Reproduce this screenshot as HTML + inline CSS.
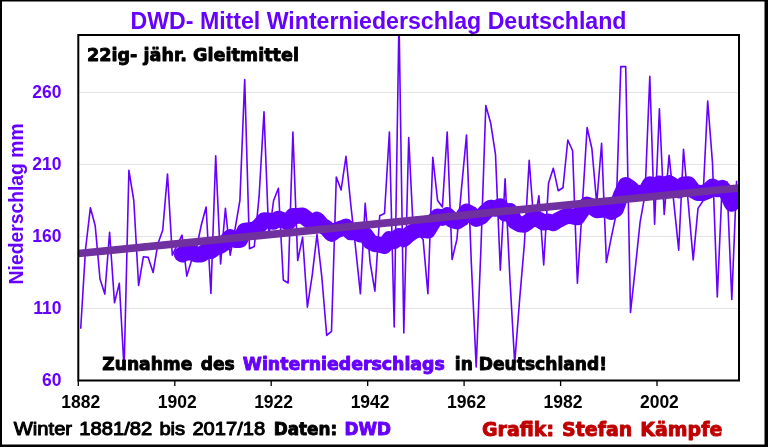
<!DOCTYPE html>
<html lang="de"><head><meta charset="utf-8"><title>DWD- Mittel Winterniederschlag Deutschland</title>
<style>
html,body{margin:0;padding:0;background:#fff;}
body{width:768px;height:447px;overflow:hidden;position:relative;font-family:"Liberation Sans",sans-serif;}
svg{position:absolute;left:0;top:0;display:block;}
.ax{font:bold 17.5px "Liberation Sans",sans-serif;}
.title{font:bold 23.1px "Liberation Sans",sans-serif;}
.blk{font:bold 16px "DejaVu Sans","Liberation Sans",sans-serif;stroke-width:0.9px;stroke-linejoin:round;}
.reg{font:18.9px "Liberation Sans",sans-serif;}
</style></head><body>
<svg width="768" height="447" viewBox="0 0 768 447">
<rect x="0" y="0" width="768" height="447" fill="#fff"/>
<defs><clipPath id="cp"><rect x="78.3" y="35.0" width="660.7" height="345.5"/></clipPath></defs>
<line x1="78.3" x2="739.0" y1="308.5" y2="308.5" stroke="#e2e2e2" stroke-width="1"/><line x1="78.3" x2="739.0" y1="236.5" y2="236.5" stroke="#e2e2e2" stroke-width="1"/><line x1="78.3" x2="739.0" y1="164.5" y2="164.5" stroke="#e2e2e2" stroke-width="1"/><line x1="78.3" x2="739.0" y1="92.5" y2="92.5" stroke="#e2e2e2" stroke-width="1"/>
<g clip-path="url(#cp)">
<polyline points="80.7,328.7 85.5,249.5 90.4,207.7 95.2,225.7 100.0,279.0 104.8,294.1 109.6,232.2 114.5,302.7 119.3,283.4 124.1,369.0 128.9,170.3 133.8,200.5 138.6,285.5 143.4,256.7 148.2,257.4 153.1,272.5 157.9,243.7 162.7,230.3 167.5,174.0 172.3,255.2 177.2,245.1 182.0,235.1 186.8,276.1 191.6,260.3 196.5,248.0 201.3,225.0 206.1,207.0 210.9,293.5 215.7,155.9 220.6,263.9 225.4,208.3 230.2,255.2 235.0,229.3 239.9,200.5 244.7,79.5 249.5,248.7 254.3,246.6 259.1,196.2 264.0,111.9 268.8,236.5 273.6,200.5 278.4,188.3 283.3,280.0 288.1,283.0 292.9,132.0 297.7,260.5 302.6,237.2 307.4,307.1 312.2,275.4 317.0,234.3 321.8,276.8 326.7,335.4 331.5,331.3 336.3,177.0 341.1,190.0 346.0,156.4 350.8,204.8 355.6,248.0 360.4,293.8 365.2,203.4 370.1,262.4 374.9,291.2 379.7,215.8 384.5,213.5 389.4,132.0 394.2,326.9 399.0,17.6 403.8,333.0 408.7,137.6 413.5,235.1 418.3,233.6 423.1,239.4 427.9,293.8 432.8,157.4 437.6,200.5 442.4,207.0 447.2,132.0 452.1,259.5 456.9,239.4 461.7,186.1 466.5,135.0 471.3,262.4 476.2,367.0 481.0,246.6 485.8,105.5 490.6,122.7 495.5,154.4 500.3,270.3 505.1,178.9 509.9,278.3 514.7,363.2 519.6,299.9 524.4,243.7 529.2,160.2 534.0,225.0 538.9,195.7 543.7,265.0 548.5,183.2 553.3,168.2 558.2,190.7 563.0,187.7 567.8,140.0 572.6,150.8 577.4,283.3 582.3,206.3 587.1,127.5 591.9,148.7 596.7,203.4 601.6,143.2 606.4,262.4 611.2,237.9 616.0,214.9 620.8,66.6 625.7,66.6 630.5,312.5 635.3,268.2 640.1,222.1 645.0,194.7 649.8,76.2 654.6,224.3 659.4,108.8 664.2,214.5 669.1,155.4 673.9,203.4 678.7,250.2 683.5,149.2 688.4,204.8 693.2,260.0 698.0,208.4 702.8,201.2 707.7,101.1 712.5,163.1 717.3,297.0 722.1,186.1 726.9,181.8 731.8,299.5 736.6,180.8" fill="none" stroke="#6600ff" stroke-width="1.6" stroke-linejoin="round"/>
<polyline points="182.0,254.5 186.8,252.1 191.6,252.6 196.5,254.4 201.3,254.4 206.1,251.1 210.9,251.1 215.7,247.6 220.6,245.8 225.4,242.4 230.2,237.2 235.0,239.9 239.9,239.9 244.7,230.6 249.5,230.2 254.3,229.7 259.1,226.2 264.0,220.3 268.8,220.5 273.6,221.7 278.4,218.7 283.3,220.3 288.1,222.5 292.9,215.9 297.7,215.9 302.6,215.4 307.4,219.2 312.2,222.3 317.0,219.6 321.8,225.1 326.7,228.3 331.5,233.9 336.3,230.4 341.1,228.6 346.0,226.6 350.8,232.3 355.6,232.2 360.4,234.4 365.2,234.7 370.1,241.6 374.9,244.0 379.7,244.7 384.5,245.9 389.4,239.2 394.2,241.1 399.0,236.0 403.8,239.2 408.7,234.7 413.5,231.4 418.3,229.5 423.1,229.8 427.9,230.5 432.8,222.5 437.6,216.5 442.4,217.9 447.2,215.2 452.1,219.9 456.9,221.5 461.7,218.7 466.5,211.5 471.3,214.1 476.2,218.9 481.0,216.9 485.8,211.8 490.6,207.7 495.5,208.7 500.3,206.2 505.1,213.5 509.9,211.0 514.7,221.3 519.6,224.2 524.4,224.7 529.2,221.1 534.0,218.0 538.9,219.7 543.7,222.6 548.5,221.5 553.3,223.2 558.2,220.1 563.0,217.7 567.8,215.6 572.6,216.3 577.4,217.3 582.3,210.0 587.1,204.6 591.9,206.5 596.7,210.2 601.6,209.7 606.4,209.3 611.2,212.0 616.0,209.1 620.8,195.6 625.7,185.0 630.5,188.2 635.3,193.1 640.1,193.0 645.0,192.9 649.8,184.3 654.6,186.2 659.4,183.5 664.2,184.6 669.1,183.1 673.9,186.0 678.7,190.5 683.5,184.4 688.4,184.3 693.2,190.4 698.0,193.1 702.8,193.0 707.7,191.1 712.5,186.6 717.3,189.2 722.1,187.9 726.9,193.2 731.8,203.7 736.6,197.8" fill="none" stroke="#6600ff" stroke-width="16" stroke-linejoin="round" stroke-linecap="round"/>
<line x1="78.3" y1="253.5" x2="739.0" y2="188" stroke="#7030a0" stroke-width="7.7"/>
</g>
<rect x="78.3" y="35.0" width="660.7" height="345.5" fill="none" stroke="#000" stroke-width="2"/>
<line x1="78.3" x2="78.3" y1="380.5" y2="386.0" stroke="#000" stroke-width="1.3"/><line x1="174.8" x2="174.8" y1="380.5" y2="386.0" stroke="#000" stroke-width="1.3"/><line x1="271.2" x2="271.2" y1="380.5" y2="386.0" stroke="#000" stroke-width="1.3"/><line x1="367.7" x2="367.7" y1="380.5" y2="386.0" stroke="#000" stroke-width="1.3"/><line x1="464.1" x2="464.1" y1="380.5" y2="386.0" stroke="#000" stroke-width="1.3"/><line x1="560.6" x2="560.6" y1="380.5" y2="386.0" stroke="#000" stroke-width="1.3"/><line x1="657.0" x2="657.0" y1="380.5" y2="386.0" stroke="#000" stroke-width="1.3"/>
<text x="80.7" y="408.3" text-anchor="middle" class="ax" fill="#000">1882</text><text x="177.2" y="408.3" text-anchor="middle" class="ax" fill="#000">1902</text><text x="273.6" y="408.3" text-anchor="middle" class="ax" fill="#000">1922</text><text x="370.1" y="408.3" text-anchor="middle" class="ax" fill="#000">1942</text><text x="466.5" y="408.3" text-anchor="middle" class="ax" fill="#000">1962</text><text x="563.0" y="408.3" text-anchor="middle" class="ax" fill="#000">1982</text><text x="659.4" y="408.3" text-anchor="middle" class="ax" fill="#000">2002</text>
<text x="61.5" y="386.4" text-anchor="end" class="ax" fill="#6600ff">60</text><text x="61.5" y="314.4" text-anchor="end" class="ax" fill="#6600ff">110</text><text x="61.5" y="242.4" text-anchor="end" class="ax" fill="#6600ff">160</text><text x="61.5" y="170.4" text-anchor="end" class="ax" fill="#6600ff">210</text><text x="61.5" y="98.4" text-anchor="end" class="ax" fill="#6600ff">260</text>
<text transform="translate(22.5,203.9) rotate(-90)" text-anchor="middle" class="ax" fill="#6600ff" style="font-size:19.3px" textLength="161" lengthAdjust="spacingAndGlyphs">Niederschlag mm</text>
<text x="130.5" y="29" class="title" fill="#6600ff" textLength="496" lengthAdjust="spacingAndGlyphs">DWD- Mittel Winterniederschlag Deutschland</text>
<text x="87" y="60.5" class="blk" fill="#000" stroke="#000" textLength="212" lengthAdjust="spacingAndGlyphs" style="font-size:18.2px">22ig- jähr. Gleitmittel</text>
<text x="102.3" y="370" class="blk" fill="#000" stroke="#000" textLength="132.5" lengthAdjust="spacingAndGlyphs" style="font-size:17.6px;word-spacing:2.5px">Zunahme des</text>
<text x="242.8" y="370" class="blk" fill="#6600ff" stroke="#6600ff" textLength="202" lengthAdjust="spacingAndGlyphs" style="font-size:17.6px">Winterniederschlags</text>
<text x="454.8" y="370" class="blk" fill="#000" stroke="#000" textLength="152.2" lengthAdjust="spacingAndGlyphs" style="font-size:17.6px">in Deutschland!</text>
<text x="13.8" y="435" class="reg" fill="#000" stroke="#000" stroke-width="1" stroke-linejoin="round" style="word-spacing:1.5px" textLength="251.5" lengthAdjust="spacingAndGlyphs">Winter 1881/82 bis 2017/18</text>
<text x="273.8" y="435.3" class="blk" fill="#000" stroke="#000" textLength="117.2" lengthAdjust="spacingAndGlyphs" style="font-size:16.9px;word-spacing:1.5px">Daten: <tspan fill="#6600ff" stroke="#6600ff">DWD</tspan></text>
<text x="482" y="436.2" class="blk" fill="#c00000" stroke="#c00000" textLength="240.3" lengthAdjust="spacingAndGlyphs" style="font-size:19.2px;word-spacing:1.5px">Grafik: Stefan Kämpfe</text>
<path d="M0 0H768V447H0Z M2 1.5V444.4H764.5V1.5Z" fill="#000" fill-rule="evenodd"/>
</svg>
</body></html>
